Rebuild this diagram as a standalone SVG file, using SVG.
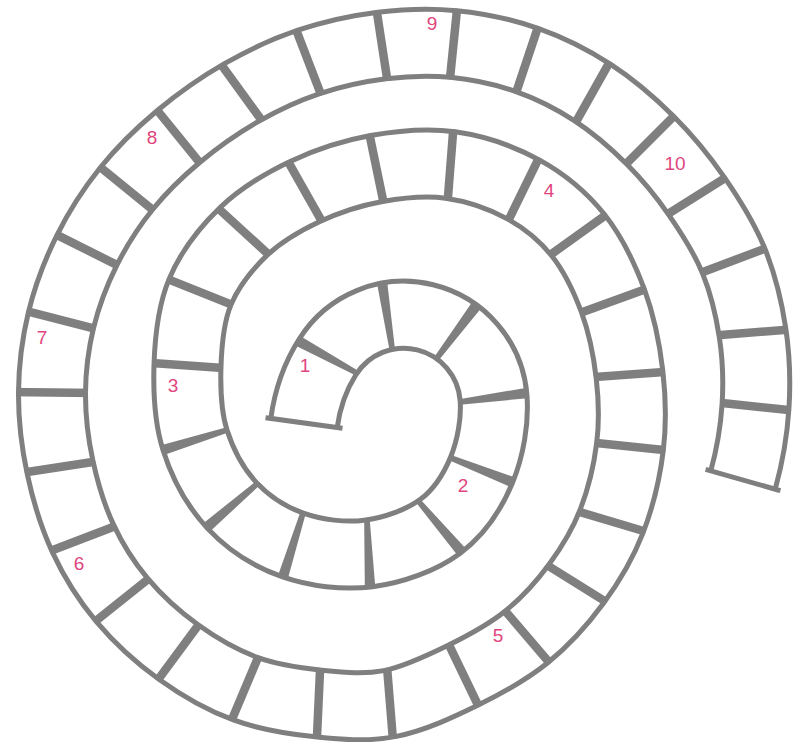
<svg xmlns="http://www.w3.org/2000/svg" xmlns:xlink="http://www.w3.org/1999/xlink" width="803" height="742" viewBox="0 0 803 742">
<style>
.edge{fill:none;stroke:#7f7f7f;stroke-width:72;stroke-linecap:butt}
.inside{fill:none;stroke:#ffffff;stroke-width:62;stroke-linecap:butt}
.div line{stroke:#7f7f7f;stroke-width:8.5}
.div polygon{fill:#7f7f7f}
.endl{stroke:#7f7f7f;stroke-width:5;stroke-linecap:square}
.lab{font-family:"Liberation Sans",Arial,sans-serif;font-size:19px;fill:#e0467e;text-anchor:middle}
</style>
<defs>
<path id="spiral" fill="none" d="M304,423 C307.2,399.7 315.3,376.2 327.5,357 A90,90 0 0 1 493.5,397.5 C495.4,420.4 490.4,448.5 481.5,470 C472.6,491.5 458.8,512.6 440,526.5 C421.2,540.4 393,550.4 368.5,553.5 C344,556.6 315.8,553 293,545 C270.3,537 248.3,523 232,505.5 C215.7,488 202.4,463.3 195,440 C187.6,416.7 186.7,390.2 187.5,365.5 C188.3,340.8 190.7,314.3 200,292 C209.3,269.7 226,248.3 243.5,231.5 C261,214.8 282.8,202 305,191.5 C327.2,181 352.3,172.9 376.5,168.5 C400.8,164.1 426,161.5 450.5,165 C475,168.5 502.3,177.8 523.5,189.5 C544.8,201.2 563.1,216.4 578,235 C592.9,253.6 604.4,277.8 613,301 C621.6,324.3 626.7,350.3 629.5,374.5 C632.3,398.8 633,422 630,446.5 C627,471 620.4,498.7 611.5,521.5 C602.6,544.3 590.6,564.3 576.5,583.5 C562.4,602.7 545.8,621.3 527,636.5 C508.2,651.8 486.3,663.8 463.5,675 C440.7,686.2 414.2,698.8 390,703.5 C365.8,708.3 342.7,706 318.5,703.5 C294.3,701 268.3,697.1 245,688.5 C221.7,679.9 199,666.8 178.5,652 C158,637.3 137.9,618.9 122,600 C106.1,581.1 93.3,560.7 83,538.5 C72.7,516.3 65.2,491.3 60,467 C54.8,442.7 51.8,417 52,392.5 C52.2,368 55.2,343.8 61,320 C66.8,296.3 76.1,271.9 87,250 C97.9,228.1 111.3,207.4 126.5,188.5 C141.8,169.6 159.3,152.5 178.5,136.5 C197.7,120.5 219.8,104.9 241.5,92.5 C263.2,80.1 285.1,69.8 308.5,62 C331.9,54.2 357.8,48.5 382,45.5 C406.2,42.5 429.3,41.6 453.5,44 C477.7,46.4 503.8,51.9 527,60 C550.2,68.1 572,79.2 592.5,92.5 C613,105.8 632.7,122.8 650,140 C667.3,157.3 682.6,175.9 696.5,196 C710.4,216.1 724.2,237.8 733.5,260.5 C742.8,283.3 748.8,308.2 752.5,332.5 C756.2,356.8 757.1,381.9 755.5,406.5 C753.9,431.1 749.5,456.5 743,480"/>
<mask id="bandMask" maskUnits="userSpaceOnUse" x="0" y="0" width="803" height="742">
<use xlink:href="#spiral" href="#spiral" stroke="#ffffff" stroke-width="71"/>
</mask>
</defs>
<rect x="0" y="0" width="803" height="742" fill="#ffffff"/>
<g id="track">
<use xlink:href="#spiral" href="#spiral" class="edge"/>
<use xlink:href="#spiral" href="#spiral" class="inside"/>
</g>
<g id="connectors">
<g class="div" mask="url(#bandMask)">
<polygon points="296.0,333.6 290.8,343.2 360.4,377.8 362.8,373.4"/>
<polygon points="386.2,273.3 375.4,274.9 390.7,356.3 395.7,355.5"/>
<polygon points="481.7,307.5 472.9,300.9 430.7,362.3 434.7,365.3"/>
<polygon points="535.7,397.4 534.3,386.4 451.7,400.6 452.3,405.6"/>
<polygon points="517.3,490.0 521.3,479.8 444.6,452.8 442.8,457.4"/>
<polygon points="460.6,559.2 469.0,552.0 417.1,495.8 413.3,499.0"/>
<polygon points="364.9,595.2 375.9,594.8 369.1,511.9 364.1,512.1"/>
<polygon points="275.4,583.1 285.8,586.3 307.8,506.0 303.0,504.6"/>
<polygon points="197.4,528.0 204.6,536.4 264.6,480.7 261.4,476.9"/>
<polygon points="153.7,447.2 156.9,457.6 235.4,430.0 234.0,425.2"/>
<line x1="144.7" y1="362.4" x2="230.3" y2="368.6"/>
<line x1="162.8" y1="277.1" x2="237.2" y2="306.9"/>
<line x1="214.4" y1="204.8" x2="272.6" y2="258.2"/>
<line x1="286.4" y1="158.6" x2="323.6" y2="224.4"/>
<line x1="368.4" y1="129.4" x2="384.6" y2="207.6"/>
<line x1="453.6" y1="125.3" x2="447.4" y2="204.7"/>
<line x1="540.2" y1="155.4" x2="506.8" y2="223.6"/>
<line x1="609" y1="212.7" x2="547" y2="257.3"/>
<line x1="650.2" y1="287.4" x2="575.8" y2="314.6"/>
<line x1="671" y1="371.4" x2="588" y2="377.6"/>
<line x1="670.9" y1="450.8" x2="589.1" y2="442.2"/>
<line x1="646.8" y1="532" x2="576.2" y2="511"/>
<line x1="609.4" y1="604" x2="543.6" y2="563"/>
<line x1="551.8" y1="665.6" x2="502.2" y2="607.4"/>
<line x1="480.2" y1="709.7" x2="446.8" y2="640.3"/>
<line x1="393.7" y1="748.8" x2="386.3" y2="658.2"/>
<line x1="316.6" y1="745" x2="320.4" y2="662"/>
<line x1="230.1" y1="723.8" x2="259.9" y2="653.2"/>
<line x1="155.6" y1="683" x2="201.4" y2="621"/>
<line x1="91" y1="624.8" x2="153" y2="575.2"/>
<line x1="45.8" y1="552.8" x2="120.2" y2="524.2"/>
<line x1="19.1" y1="473.2" x2="100.9" y2="460.8"/>
<line x1="8.6" y1="391.9" x2="95.4" y2="393.1"/>
<line x1="22.6" y1="310.1" x2="99.4" y2="329.9"/>
<line x1="49.8" y1="231.4" x2="124.2" y2="268.6"/>
<line x1="93.6" y1="161.8" x2="159.4" y2="215.2"/>
<line x1="151.8" y1="103.6" x2="205.2" y2="169.4"/>
<line x1="218.6" y1="60.9" x2="264.4" y2="124.1"/>
<line x1="294.2" y1="24.8" x2="322.8" y2="99.2"/>
<line x1="375.8" y1="5.2" x2="388.2" y2="85.8"/>
<line x1="457.8" y1="1.8" x2="449.2" y2="86.2"/>
<line x1="539.4" y1="22.8" x2="514.6" y2="97.2"/>
<line x1="611.7" y1="58.4" x2="573.3" y2="126.6"/>
<line x1="678.5" y1="111.5" x2="621.5" y2="168.5"/>
<line x1="728.1" y1="176.2" x2="664.9" y2="215.8"/>
<line x1="771.3" y1="246.2" x2="695.7" y2="274.8"/>
<line x1="790.3" y1="329.4" x2="714.7" y2="335.6"/>
<line x1="795.8" y1="410.8" x2="715.2" y2="402.2"/>
</g>
<line class="endl" x1="268" y1="418" x2="340" y2="428"/>
<line class="endl" x1="778" y1="490" x2="708" y2="470"/>
</g>
<g id="labels">
<g id="n1"><text class="lab" x="305" y="372">1</text></g>
<g id="n2"><text class="lab" x="463" y="492">2</text></g>
<g id="n3"><text class="lab" x="173" y="392">3</text></g>
<g id="n4"><text class="lab" x="549" y="197">4</text></g>
<g id="n5"><text class="lab" x="498" y="642">5</text></g>
<g id="n6"><text class="lab" x="79" y="570">6</text></g>
<g id="n7"><text class="lab" x="42" y="344">7</text></g>
<g id="n8"><text class="lab" x="152" y="144">8</text></g>
<g id="n9"><text class="lab" x="432" y="30">9</text></g>
<g id="n10"><text class="lab" x="675" y="170">10</text></g>
</g>
</svg>
